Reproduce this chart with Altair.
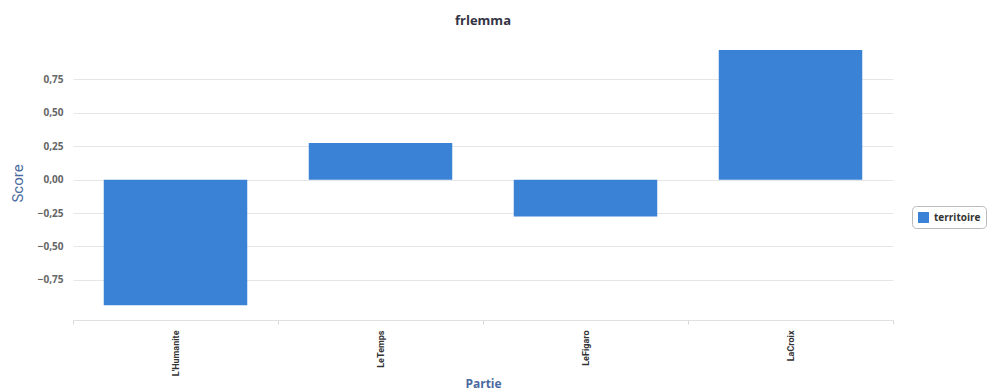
import altair as alt
import pandas as pd

parties = ["L'Humanite", "LeTemps", "LeFigaro", "LaCroix"]
scores = [-0.94, 0.275, -0.275, 0.97]
series = ["territoire"] * 4
y_ticks = [-0.75, -0.5, -0.25, 0.0, 0.25, 0.5, 0.75]

df = pd.DataFrame({"Partie": parties, "Score": scores, "serie": series})

bars = alt.Chart(df).mark_bar(color="#3a82d6", width=alt.RelativeBandSize(0.7)).encode(
    x=alt.X("Partie:N", sort=parties, title="Partie",
            scale=alt.Scale(paddingInner=0, paddingOuter=0),
            axis=alt.Axis(labelAngle=270, labelAlign="right", labelBaseline="middle",
                          labelFont="Roboto", labelFontWeight="bold",
                          labelFontSize=9, labelColor="#333333", labelPadding=6,
                          tickBand="extent", tickColor="#d8d8d8", tickSize=4,
                          domainColor="#e0e0e0", grid=False,
                          titleColor="#4a6aa0", titleFont="Open Sans", titleFontSize=12,
                          titleFontWeight="bold", titleY=63, titleBaseline="middle")),
    y=alt.Y("Score:Q", title="Score",
            scale=alt.Scale(domain=[-1.05, 1.0], nice=False, zero=False),
            axis=alt.Axis(values=y_ticks, labelExpr="replace(format(datum.value, '.2f'), '.', ',')",
                          labelFont="Open Sans", labelFontSize=10, labelFontWeight="bold",
                          labelColor="#666666", labelPadding=10, domain=False, ticks=False,
                          gridColor="#e6e6e6", titleColor="#4a6aa0",
                          titleFont="Roboto", titleFontSize=15,
                          titleFontWeight="normal", titlePadding=12)),
    fill=alt.Fill("serie:N", scale=alt.Scale(range=["#3a82d6"]),
                  legend=alt.Legend(title=None, orient="none", legendX=839, legendY=160,
                                    strokeColor="#bbbbbb", cornerRadius=4, padding=5,
                                    symbolType="square", symbolSize=120,
                                    labelFont="Open Sans", labelFontWeight="bold",
                                    labelFontSize=10, labelColor="#333333")),
)

chart = bars.properties(
    width=820, height=274,
    title=alt.TitleParams("frlemma", font="Open Sans", fontSize=13, fontWeight="bold",
                          color="#333344", anchor="middle", offset=18),
    autosize=alt.AutoSizeParams(type="none"),
    padding={"left": 73, "top": 46, "right": 95, "bottom": 72},
).configure_view(stroke=None)

chart.save("out.html", embed_options={"renderer": "svg", "actions": False})
